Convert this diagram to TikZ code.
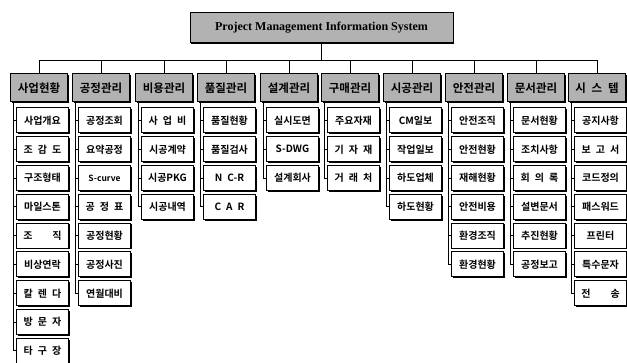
\documentclass[tikz,border=0pt]{standalone}
\usepackage{fontspec}
\setmainfont{Liberation Serif}
\newfontfamily\kr{Noto Sans CJK KR}[BoldFont={Noto Sans CJK KR Bold}]
\usetikzlibrary{shadows}
\tikzset{
  shd/.style={drop shadow={shadow xshift=1.3pt,shadow yshift=-1.3pt,fill=black,opacity=1}},
  tt/.style={draw,fill=black!30,line width=1pt,minimum width=263pt,minimum height=30pt,inner sep=0pt,shd,font=\bfseries\fontsize{12}{12}\selectfont},
  hd/.style={draw,fill=black!30,line width=1pt,minimum width=57pt,minimum height=28pt,inner sep=0pt,shd,font=\kr\bfseries\fontsize{11.5}{12}\selectfont},
  it/.style={draw,fill=white,line width=1pt,minimum width=52pt,minimum height=25pt,inner sep=0pt,shd,font=\kr\bfseries\fontsize{10}{10}\selectfont},
  every picture/.style={line width=0.9pt},
}
\begin{document}
\begin{tikzpicture}[x=1pt,y=-1pt]
\useasboundingbox (0,0) rectangle (627,363);
\node[tt] (T) at (321.5,28){Project Management Information System};
\coordinate (bL) at (39,60); \coordinate (bR) at (597,60);
\node[hd] (h1) at (39,88){사업현황}; \node[hd] (h2) at (101,88){공정관리}; \node[hd] (h3) at (164,88){비용관리};
\node[hd] (h4) at (226,88){품질관리}; \node[hd] (h5) at (289,88){설계관리}; \node[hd] (h6) at (350,88){구매관리};
\node[hd] (h7) at (412,88){시공관리}; \node[hd] (h8) at (474,88){안전관리}; \node[hd] (h9) at (536,88){문서관리};
\node[hd] (h10) at (597,88){시\enspace 스\enspace 템};
% top bus
\draw (T) -- (T|-bL); \draw (bL) -- (bR);
\draw (h1.north) -- (h1|-bL); \draw (h2.north) -- (h2|-bL); \draw (h3.north) -- (h3|-bL); \draw (h4.north) -- (h4|-bL);
\draw (h5.north) -- (h5|-bL); \draw (h6.north) -- (h6|-bL); \draw (h7.north) -- (h7|-bL); \draw (h8.north) -- (h8|-bL);
\draw (h9.north) -- (h9|-bL); \draw (h10.north) -- (h10|-bL);
% 사업현황
\node[it] (A1) at (42.5,120.5){사업개요}; \node[it] (A2) at (42.5,149.3){조\enspace 감\enspace 도};
\node[it] (A3) at (42.5,178.1){구조형태}; \node[it] (A4) at (42.5,206.9){마일스톤};
\node[it] (A5) at (42.5,235.7){조\hspace{2em}직}; \node[it] (A6) at (42.5,264.5){비상연락};
\node[it] (A7) at (42.5,293.3){칼\enspace 렌\enspace 다}; \node[it] (A8) at (42.5,322.1){방\enspace 문\enspace 자};
\node[it] (A9) at (42.5,350.9){타\enspace 구\enspace 장};
% 공정관리
\node[it] (B1) at (104.5,120.5){공정조회}; \node[it] (B2) at (104.5,149.3){요약공정};
\node[it] (B3) at (104.5,178.1){\fontsize{8.5}{9}\selectfont S-curve}; \node[it] (B4) at (104.5,206.9){공\enspace 정\enspace 표};
\node[it] (B5) at (104.5,235.7){공정현황}; \node[it] (B6) at (104.5,264.5){공정사진};
\node[it] (B7) at (104.5,293.3){연월대비};
% 비용관리
\node[it] (C1) at (167.5,120.5){사\enspace 업\enspace 비}; \node[it] (C2) at (167.5,149.3){시공계약};
\node[it] (C3) at (167.5,178.1){시공PKG}; \node[it] (C4) at (167.5,206.9){시공내역};
% 품질관리
\node[it] (D1) at (229.5,120.5){품질현황}; \node[it] (D2) at (229.5,149.3){품질검사};
\node[it] (D3) at (229.5,178.1){N\enspace C-R}; \node[it] (D4) at (229.5,206.9){C\enspace A\enspace R};
% 설계관리
\node[it] (E1) at (292.5,120.5){실시도면}; \node[it] (E2) at (292.5,149.3){S-DWG};
\node[it] (E3) at (292.5,178.1){설계회사};
% 구매관리
\node[it] (F1) at (353.5,120.5){주요자재}; \node[it] (F2) at (353.5,149.3){기\enspace 자\enspace 재};
\node[it] (F3) at (353.5,178.1){거\enspace 래\enspace 처};
% 시공관리
\node[it] (G1) at (415.5,120.5){CM일보}; \node[it] (G2) at (415.5,149.3){작업일보};
\node[it] (G3) at (415.5,178.1){하도업체}; \node[it] (G4) at (415.5,206.9){하도현황};
% 안전관리
\node[it] (H1) at (477.5,120.5){안전조직}; \node[it] (H2) at (477.5,149.3){안전현황};
\node[it] (H3) at (477.5,178.1){재해현황}; \node[it] (H4) at (477.5,206.9){안전비용};
\node[it] (H5) at (477.5,235.7){환경조직}; \node[it] (H6) at (477.5,264.5){환경현황};
% 문서관리
\node[it] (I1) at (539.5,120.5){문서현황}; \node[it] (I2) at (539.5,149.3){조치사항};
\node[it] (I3) at (539.5,178.1){회\enspace 의\enspace 록}; \node[it] (I4) at (539.5,206.9){설변문서};
\node[it] (I5) at (539.5,235.7){추진현황}; \node[it] (I6) at (539.5,264.5){공정보고};
% 시스템
\node[it] (J1) at (600.5,120.5){공지사항}; \node[it] (J2) at (600.5,149.3){보\enspace 고\enspace 서};
\node[it] (J3) at (600.5,178.1){코드정의}; \node[it] (J4) at (600.5,206.9){패스워드};
\node[it] (J5) at (600.5,235.7){프린터}; \node[it] (J6) at (600.5,264.5){특수문자};
\node[it] (J7) at (600.5,293.3){전\hspace{2em}송};
% trunks
\coordinate (t1) at ([xshift=3.5pt]h1.south west); \coordinate (t2) at ([xshift=3.5pt]h2.south west);
\coordinate (t3) at ([xshift=3.5pt]h3.south west); \coordinate (t4) at ([xshift=3.5pt]h4.south west);
\coordinate (t5) at ([xshift=3.5pt]h5.south west); \coordinate (t6) at ([xshift=3.5pt]h6.south west);
\coordinate (t7) at ([xshift=3.5pt]h7.south west); \coordinate (t8) at ([xshift=3.5pt]h8.south west);
\coordinate (t9) at ([xshift=3.5pt]h9.south west); \coordinate (t10) at ([xshift=3.5pt]h10.south west);
\draw (t1) |- (A1) (t1) |- (A2) (t1) |- (A3) (t1) |- (A4) (t1) |- (A5) (t1) |- (A6) (t1) |- (A7) (t1) |- (A8) (t1) |- (A9);
\draw (t2) |- (B1) (t2) |- (B2) (t2) |- (B3) (t2) |- (B4) (t2) |- (B5) (t2) |- (B6) (t2) |- (B7);
\draw (t3) |- (C1) (t3) |- (C2) (t3) |- (C3) (t3) |- (C4);
\draw (t4) |- (D1) (t4) |- (D2) (t4) |- (D3) (t4) |- (D4);
\draw (t5) |- (E1) (t5) |- (E2) (t5) |- (E3);
\draw (t6) |- (F1) (t6) |- (F2) (t6) |- (F3);
\draw (t7) |- (G1) (t7) |- (G2) (t7) |- (G3) (t7) |- (G4);
\draw (t8) |- (H1) (t8) |- (H2) (t8) |- (H3) (t8) |- (H4) (t8) |- (H5) (t8) |- (H6);
\draw (t9) |- (I1) (t9) |- (I2) (t9) |- (I3) (t9) |- (I4) (t9) |- (I5) (t9) |- (I6);
\draw (t10) |- (J1) (t10) |- (J2) (t10) |- (J3) (t10) |- (J4) (t10) |- (J5) (t10) |- (J6) (t10) |- (J7);
\end{tikzpicture}
\end{document}
